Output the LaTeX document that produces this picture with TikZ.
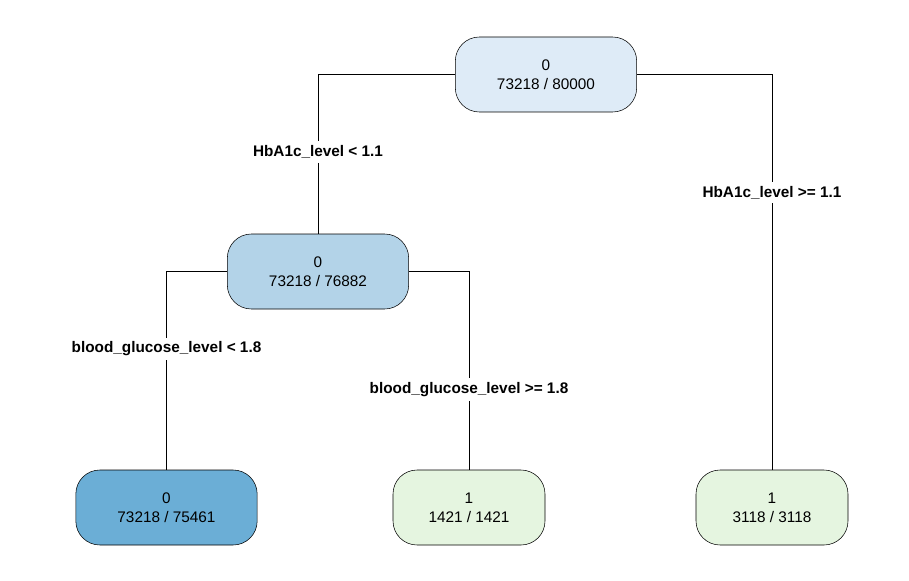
\documentclass[tikz,border=0pt]{standalone}
\usepackage{fontspec}
\setmainfont{Liberation Sans}
\usepackage{tikz}

\definecolor{rootblue}{HTML}{DEEBF7}
\definecolor{midblue}{HTML}{B3D3E8}
\definecolor{deepblue}{HTML}{6BAED6}
\definecolor{leafgreen}{HTML}{E5F5E0}

\begin{document}
\begin{tikzpicture}[x=0.75pt, y=-0.75pt,
  every node/.style={font=\fontsize{11.5}{14.3}\selectfont},
  treebox/.style={draw, rounded corners=18pt, minimum height=56.25pt, align=center, inner sep=0pt},
  wide/.style={treebox, minimum width=136pt},
  narrow/.style={treebox, minimum width=114pt},
  splitlbl/.style={fill=white, inner sep=3pt, font=\fontsize{11.5}{14}\selectfont\bfseries}]
\useasboundingbox (0,0) rectangle (909,581);

% Root
\node[wide, fill=rootblue] (root) at (546,74.5) {0\\73218 / 80000};

% Inner node
\node[wide, fill=midblue] (inner) at (318,271.5) {0\\73218 / 76882};

% Leaves
\node[wide, fill=deepblue] (leafa) at (166.5,507.5) {0\\73218 / 75461};
\node[narrow, fill=leafgreen] (leafb) at (469,507.5) {1\\1421 / 1421};
\node[narrow, fill=leafgreen] (leafc) at (772,507.5) {1\\3118 / 3118};

% Split labels
\node[splitlbl] (hbalo) at (318,152) {HbA1c\_level < 1.1};
\node[splitlbl] (hbahi) at (772,192.5) {HbA1c\_level >= 1.1};
\node[splitlbl] (glulo) at (166.5,349) {blood\_glucose\_level < 1.8};
\node[splitlbl] (gluhi) at (469,389.5) {blood\_glucose\_level >= 1.8};

% Branches
\draw (root.west) -| (hbalo.north);
\draw (hbalo.south) -- (inner.north);
\draw (root.east) -| (hbahi.north);
\draw (hbahi.south) -- (leafc.north);
\draw (inner.west) -| (glulo.north);
\draw (glulo.south) -- (leafa.north);
\draw (inner.east) -| (gluhi.north);
\draw (gluhi.south) -- (leafb.north);
\end{tikzpicture}
\end{document}
